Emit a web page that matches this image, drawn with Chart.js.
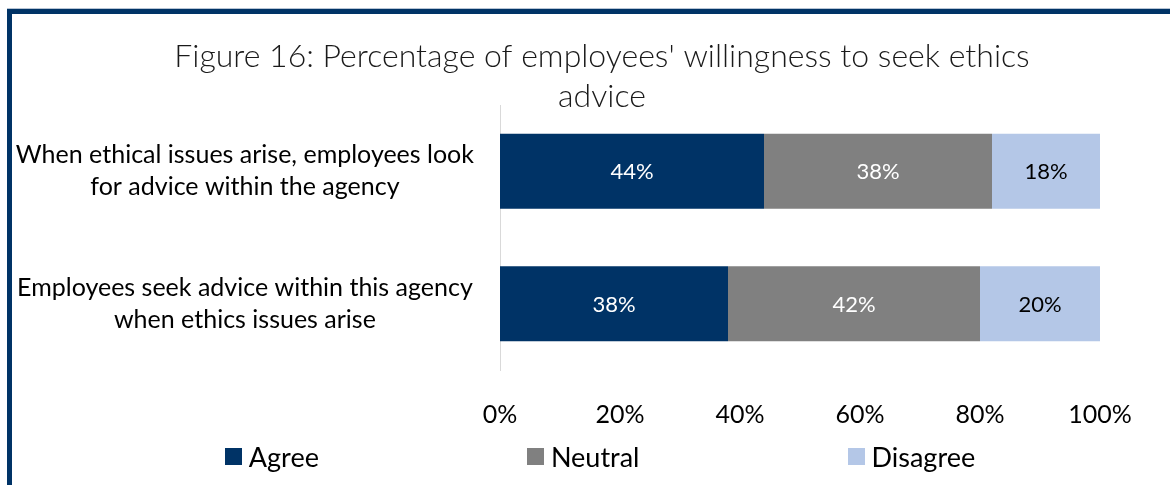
<!DOCTYPE html>
<html>
<head>
<meta charset="utf-8">
<script src="https://cdn.jsdelivr.net/npm/chart.js@4.4.1/dist/chart.umd.min.js"></script>
<style>
  html, body { margin: 0; padding: 0; background: #fff; overflow: hidden; width: 1170px; height: 485px; }
  #frame {
    position: absolute; left: 7px; top: 9px; width: 1200px; height: 520px;
    border-left: 5px solid #003366; border-top: 5px solid #003366;
    box-shadow: 0 -1px 0 #b7c4d4;
  }
  #wrap { position: absolute; left: 0; top: 0; width: 1190px; height: 485px; }
  #legend {
    position: absolute; left: 0; top: 440px; width: 1200px;
    display: flex; justify-content: center; column-gap: 208px;
    font: 27px Lato, 'Open Sans', sans-serif; color: #000;
  }
  #legend .item { display: flex; align-items: center; white-space: nowrap; }
  #legend .box { width: 17px; height: 17px; margin-right: 7px; }
</style>
</head>
<body>
<div id="frame"></div>
<div id="wrap"><canvas id="chart"></canvas></div>
<div id="legend"></div>
<script>
// survey statements (two lines each) and answer shares in percent
const categories = [
  ['When ethical issues arise, employees look', 'for advice within the agency'],
  ['Employees seek advice within this agency', 'when ethics issues arise'],
];
const agree = [44, 38];
const neutral = [38, 42];
const disagree = [18, 20];
const xTicks = [0, 20, 40, 60, 80, 100];

const FONT = "Lato, 'Open Sans', sans-serif";
Chart.defaults.font.family = FONT;
Chart.defaults.color = '#000';

// writes the percentage in the middle of every bar segment
const barLabels = {
  id: 'barLabels',
  afterDatasetsDraw(chart) {
    const ctx = chart.ctx;
    ctx.save();
    ctx.font = '22px ' + FONT;
    ctx.textAlign = 'center';
    ctx.textBaseline = 'middle';
    chart.data.datasets.forEach((ds, i) => {
      chart.getDatasetMeta(i).data.forEach((bar, j) => {
        const c = bar.getCenterPoint();
        ctx.fillStyle = ds.labelColor;
        ctx.fillText(ds.data[j] + '%', c.x, c.y + 1);
      });
    });
    ctx.restore();
  },
};

const chart = new Chart(document.getElementById('chart'), {
  type: 'bar',
  data: {
    labels: categories,
    datasets: [
      { label: 'Agree', data: agree, backgroundColor: '#003366', labelColor: '#fff' },
      { label: 'Neutral', data: neutral, backgroundColor: '#808080', labelColor: '#fff' },
      { label: 'Disagree', data: disagree, backgroundColor: '#b4c7e7', labelColor: '#000' },
    ],
  },
  options: {
    indexAxis: 'y',
    responsive: true,
    maintainAspectRatio: false,
    animation: false,
    layout: { padding: { left: 14, right: 0, top: 0, bottom: 0 } },
    datasets: { bar: { barPercentage: 1, categoryPercentage: 0.566 } },
    scales: {
      x: {
        stacked: true,
        min: 0,
        max: 100,
        afterBuildTicks: (scale) => { scale.ticks = xTicks.map(v => ({ value: v })); },
        // keep the plot's right edge at 1100px, leaving room for the last tick label
        afterFit: (scale) => { scale.height = 115; scale.paddingRight = 90; },
        ticks: { callback: (v) => v + '%', font: { size: 25 }, padding: 22, color: '#000', maxRotation: 0 },
        grid: { display: false },
        border: { display: false },
      },
      y: {
        stacked: true,
        afterFit: (scale) => { scale.width = 486; },
        ticks: { crossAlign: 'center', padding: 26, font: { size: 25, lineHeight: 1.28 }, color: '#000', autoSkip: false },
        grid: { display: false, drawTicks: false },
        border: { display: true, color: '#d9d9d9', width: 1 },
      },
    },
    plugins: {
      title: {
        display: true,
        text: ["Figure 16: Percentage of employees' willingness to seek ethics", 'advice'],
        font: { size: 32, weight: 300, lineHeight: 1.25 },
        color: '#1a1a1a',
        padding: { top: 37, bottom: -12 },
      },
      legend: { display: false },
      tooltip: { enabled: false },
    },
  },
  plugins: [barLabels],
});

// legend row built from the datasets
const legendEl = document.getElementById('legend');
chart.data.datasets.forEach(ds => {
  const item = document.createElement('div');
  item.className = 'item';
  const box = document.createElement('span');
  box.className = 'box';
  box.style.background = ds.backgroundColor;
  item.appendChild(box);
  item.appendChild(document.createTextNode(ds.label));
  legendEl.appendChild(item);
});
</script>
</body>
</html>
